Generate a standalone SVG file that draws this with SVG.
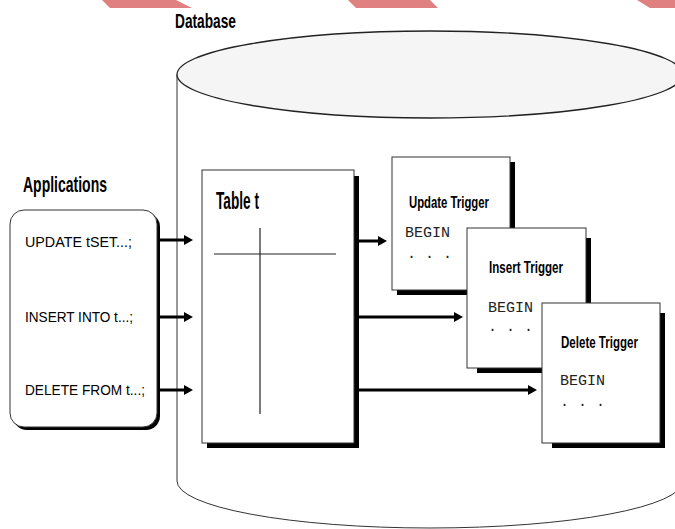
<svg xmlns="http://www.w3.org/2000/svg" width="675" height="529" viewBox="0 0 675 529">
<style>
.hd{font-family:"Liberation Sans",Arial,sans-serif;font-weight:bold;fill:#000}
.st{font-family:"Liberation Sans",Arial,sans-serif;font-size:15px;fill:#000}
.mono{font-family:"Liberation Mono","Courier New",monospace;font-size:15px;fill:#222}
.box{fill:#fff;stroke:#333;stroke-width:1}
.shadow{fill:#000}
.conn{stroke:#000;stroke-width:3;fill:none}
.grid{stroke:#222;stroke-width:1.2}
</style>
<defs>
<marker id="ah" markerWidth="9" markerHeight="10" refX="0" refY="5" orient="auto" markerUnits="userSpaceOnUse">
<path d="M0,0 L9,5 L0,10 Z" fill="#000"/>
</marker>
</defs>
<rect width="675" height="529" fill="#fff"/>
<g id="stripes" fill="#e08080">
<polygon points="102,0 176,0 192,8 110,8"/>
<polygon points="348,0 430,0 438,8 356,8"/>
<polygon points="637,0 675,0 675,8 650,8"/>
</g>
<g id="database">
<path d="M177,74.5 L177,481 A253,47 0 0 0 683,481 L683,74.5 Z" fill="#fff" stroke="#333" stroke-width="1"/>
<ellipse cx="430" cy="74.5" rx="253" ry="43.5" fill="#f5f5f5" stroke="#222" stroke-width="1.3"/>
<text class="hd" x="175" y="28" font-size="21" textLength="61" lengthAdjust="spacingAndGlyphs">Database</text>
</g>
<g id="applications">
<text class="hd" x="23" y="192" font-size="21.5" textLength="84" lengthAdjust="spacingAndGlyphs">Applications</text>
<rect class="shadow" x="13" y="213" width="147" height="217" rx="14"/>
<rect class="box" x="10" y="210" width="147" height="217" rx="14"/>
<text class="st" x="25" y="247" textLength="107" lengthAdjust="spacingAndGlyphs">UPDATE tSET...;</text>
<text class="st" x="25" y="322" textLength="108" lengthAdjust="spacingAndGlyphs">INSERT INTO t...;</text>
<text class="st" x="25" y="395" textLength="120" lengthAdjust="spacingAndGlyphs">DELETE FROM t...;</text>
</g>
<g id="table-t">
<rect class="shadow" x="207" y="176" width="152" height="272"/>
<rect class="box" x="202" y="170" width="152" height="273"/>
<text class="hd" x="216" y="209" font-size="23" textLength="43" lengthAdjust="spacingAndGlyphs">Table t</text>
<line class="grid" x1="214" y1="254" x2="336" y2="254"/>
<line class="grid" x1="260" y1="228" x2="260" y2="414"/>
</g>
<g id="update-trigger">
<rect class="shadow" x="397" y="162" width="118" height="133"/>
<rect class="box" x="392" y="157" width="118" height="133"/>
<text class="hd" x="409" y="208" font-size="16.5" textLength="80" lengthAdjust="spacingAndGlyphs">Update Trigger</text>
<text class="mono" x="405" y="237">BEGIN</text>
<text class="mono" x="407" y="258">. . .</text>
</g>
<g id="insert-trigger">
<rect class="shadow" x="477" y="238" width="114" height="135"/>
<rect class="box" x="467" y="228" width="119" height="140"/>
<text class="hd" x="489" y="273" font-size="16.5" textLength="74" lengthAdjust="spacingAndGlyphs">Insert Trigger</text>
<text class="mono" x="488" y="312">BEGIN</text>
<text class="mono" x="488" y="331">. . .</text>
</g>
<g id="delete-trigger">
<rect class="shadow" x="552" y="313" width="113" height="135"/>
<rect class="box" x="542" y="303" width="118" height="140"/>
<text class="hd" x="561" y="348" font-size="16.5" textLength="77" lengthAdjust="spacingAndGlyphs">Delete Trigger</text>
<text class="mono" x="560" y="385">BEGIN</text>
<text class="mono" x="560" y="406">. . .</text>
</g>
<g id="connectors">
<line class="conn" x1="159" y1="240" x2="184" y2="240" marker-end="url(#ah)"/>
<line class="conn" x1="159" y1="317" x2="184" y2="317" marker-end="url(#ah)"/>
<line class="conn" x1="159" y1="390" x2="184" y2="390" marker-end="url(#ah)"/>
<line class="conn" x1="359" y1="241" x2="378" y2="241" marker-end="url(#ah)"/>
<line class="conn" x1="359" y1="317" x2="454" y2="317" marker-end="url(#ah)"/>
<line class="conn" x1="359" y1="390" x2="528" y2="390" marker-end="url(#ah)"/>
</g>
</svg>
